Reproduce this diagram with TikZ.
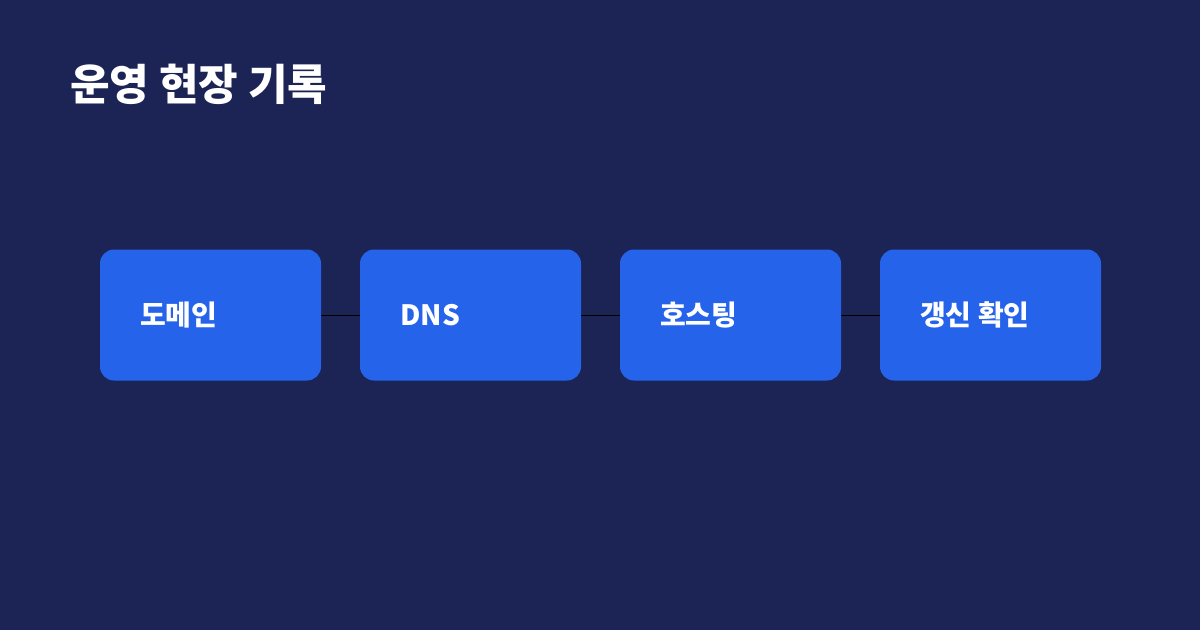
\documentclass[tikz,border=0pt]{standalone}
\usepackage{fontspec}
\newfontfamily\cjk{Noto Sans CJK KR}
\definecolor{bg}{HTML}{1B2455}
\definecolor{boxblue}{HTML}{2563EB}
\tikzset{
  stepbox/.style={fill=boxblue, rounded corners=14pt, minimum width=221pt, minimum height=131pt, inner sep=0pt},
  boxlabel/.style={anchor=west, text=white, font=\cjk\bfseries\fontsize{28}{32}\selectfont, inner sep=0pt},
  link/.style={draw=black, line width=1pt}
}
\begin{document}
\begin{tikzpicture}[x=1pt,y=-1pt]
\fill[bg] (0,0) rectangle (1200,630);
\useasboundingbox (0,0) rectangle (1200,630);
\node[anchor=west, text=white, font=\cjk\bfseries\fontsize{43}{48}\selectfont, inner sep=0pt] (title) at (70,84) {운영 현장 기록};
\node[stepbox] (b1) at (210.5,315) {};
\node[stepbox] (b2) at (470.5,315) {};
\node[stepbox] (b3) at (730.5,315) {};
\node[stepbox] (b4) at (990.5,315) {};
\node[boxlabel] (t1) at (140,315) {도메인};
\node[boxlabel] (t2) at (400,315) {DNS};
\node[boxlabel] (t3) at (660,315) {호스팅};
\node[boxlabel] (t4) at (920,315) {갱신 확인};
\draw[link] (b1.east) -- (b2.west);
\draw[link] (b2.east) -- (b3.west);
\draw[link] (b3.east) -- (b4.west);
\end{tikzpicture}
\end{document}
